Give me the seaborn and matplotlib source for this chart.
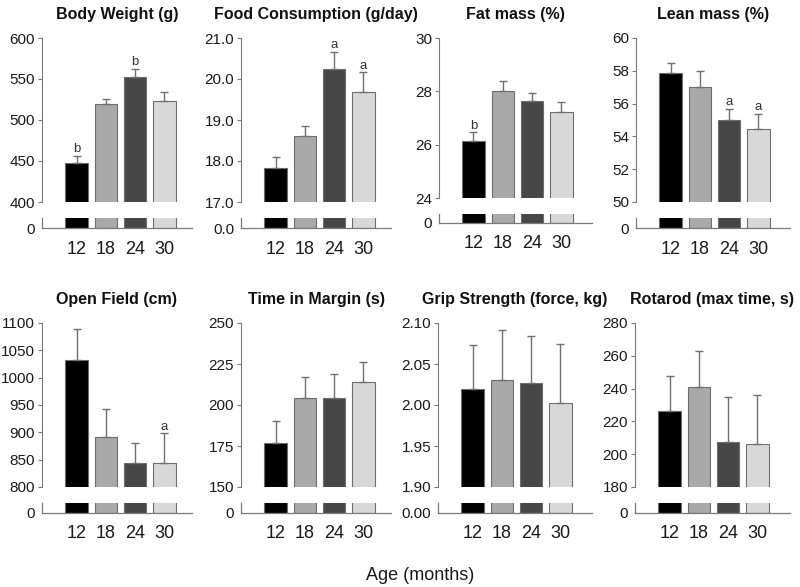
import numpy as np
import matplotlib
matplotlib.use("Agg")
import matplotlib.pyplot as plt
import seaborn as sns

# --------------------------
# Data
# --------------------------
ages = ["12", "18", "24", "30"]
bar_colors = ["#000000", "#a9a9a9", "#474747", "#d8d8d8"]

body_weight = [448, 520, 553, 523]
body_weight_err = [8, 6, 9, 11]
body_weight_sig = ["b", "", "b", ""]

food = [17.82, 18.62, 20.24, 19.69]
food_err = [0.27, 0.24, 0.43, 0.47]
food_sig = ["", "", "a", "a"]

fat = [26.15, 28.03, 27.63, 27.23]
fat_err = [0.31, 0.36, 0.30, 0.38]
fat_sig = ["b", "", "", ""]

lean = [57.84, 57.02, 54.98, 54.45]
lean_err = [0.63, 0.94, 0.71, 0.94]
lean_sig = ["", "", "a", "a"]

open_field = [1032, 892, 843, 844]
open_field_err = [57, 50, 38, 54]
open_field_sig = ["", "", "", "a"]

margin = [177, 204, 204, 214]
margin_err = [13, 13, 15, 12]
margin_sig = ["", "", "", ""]

grip = [2.019, 2.030, 2.027, 2.002]
grip_err = [0.054, 0.061, 0.057, 0.073]
grip_sig = ["", "", "", ""]

rotarod = [226.5, 241, 207.5, 206]
rotarod_err = [21, 22, 27.5, 30]
rotarod_sig = ["", "", "", ""]

# --------------------------
# Figure setup
# --------------------------
sns.set_style("ticks")
plt.rcParams["font.family"] = ["Liberation Sans", "DejaVu Sans"]

W, H = 800, 587
fig = plt.figure(figsize=(W / 100, H / 100), dpi=100)
fig.patch.set_facecolor("white")

spine_col = "#7a7a7a"
text_col = "#1a1a1a"


def px_axes(x0, y0, x1, y1):
    return fig.add_axes([x0 / W, 1 - y1 / H, (x1 - x0) / W, (y1 - y0) / H])


# title, values, errors, letters, ylim, yticks, tick format, zero label,
# axis left, axis right, top, break, lower-top, lower-bottom (pixels)
panels = [
    ("Body Weight (g)", body_weight, body_weight_err, body_weight_sig,
     (400, 600), np.arange(400, 601, 50), "{:.0f}", "0", 42, 192, 38, 202, 218, 228),
    ("Food Consumption (g/day)", food, food_err, food_sig,
     (17, 21), np.arange(17, 21.01, 1.0), "{:.1f}", "0.0", 241, 391, 38, 202, 218, 228),
    ("Fat mass (%)", fat, fat_err, fat_sig,
     (24, 30), np.arange(24, 30.1, 2), "{:.0f}", "0", 439, 592, 38, 198, 214, 223),
    ("Lean mass (%)", lean, lean_err, lean_sig,
     (50, 60), np.arange(50, 60.1, 2), "{:.0f}", "0", 636, 790, 38, 202, 218, 228),
    ("Open Field (cm)", open_field, open_field_err, open_field_sig,
     (800, 1100), np.arange(800, 1101, 50), "{:.0f}", "0", 42, 192, 323, 487, 503, 513),
    ("Time in Margin (s)", margin, margin_err, margin_sig,
     (150, 250), np.arange(150, 251, 25), "{:.0f}", "0", 241, 391, 323, 487, 503, 513),
    ("Grip Strength (force, kg)", grip, grip_err, grip_sig,
     (1.90, 2.10), np.arange(1.90, 2.101, 0.05), "{:.2f}", "0.00", 438, 592, 323, 487, 503, 513),
    ("Rotarod (max time, s)", rotarod, rotarod_err, rotarod_sig,
     (180, 280), np.arange(180, 281, 20), "{:.0f}", "0", 635, 790, 323, 487, 503, 513),
]

step = 29.3      # pixels between bar centres
first = 34.5     # pixels from axis to first bar centre

for (title, vals, errs, sig, ylim, yticks, fmt, zero_lab,
     x0, x1, top, brk, low_top, low_bot) in panels:
    xl = (-first / step, -first / step + (x1 - x0) / step)

    # upper (zoomed) part
    ax = px_axes(x0, top, x1, brk)
    sns.barplot(x=ages, y=vals, hue=ages, palette=bar_colors, order=ages,
                width=0.77, edgecolor="#6e6e6e", linewidth=0.8,
                legend=False, ax=ax)
    ax.errorbar(range(4), vals, yerr=[[0] * 4, errs], fmt="none",
                ecolor="#707070", elinewidth=1, capsize=3, capthick=1, zorder=3)
    for i, s in enumerate(sig):
        if s:
            ax.annotate(s, (i, vals[i] + errs[i]), xytext=(0, 0.5),
                        textcoords="offset points", ha="center", va="bottom",
                        fontsize=9.5, color="#333333")
    ax.set_xlim(*xl)
    ax.set_ylim(*ylim)
    ax.set_yticks(yticks)
    ax.set_yticklabels([fmt.format(t) for t in yticks])
    ax.set_xticks([])
    ax.set_xlabel("")
    ax.set_ylabel("")
    sns.despine(ax=ax, bottom=True)
    ax.spines["left"].set_color(spine_col)
    ax.tick_params(axis="y", colors=spine_col, labelcolor=text_col,
                   labelsize=11, length=3, width=0.8, pad=2)
    ax.set_title(title, fontsize=11.5, fontweight="bold", pad=14, color="#111111")

    # lower part showing zero
    axb = px_axes(x0, low_top, x1, low_bot)
    sns.barplot(x=ages, y=vals, hue=ages, palette=bar_colors, order=ages,
                width=0.77, edgecolor="#6e6e6e", linewidth=0.8,
                legend=False, ax=axb)
    axb.set_xlim(*xl)
    axb.set_ylim(0, 1)
    axb.set_yticks([0])
    axb.set_yticklabels([zero_lab])
    axb.set_xticks(range(4))
    axb.set_xticklabels(ages)
    axb.set_xlabel("")
    axb.set_ylabel("")
    sns.despine(ax=axb)
    for sp in ("left", "bottom"):
        axb.spines[sp].set_color(spine_col)
        axb.spines[sp].set_linewidth(0.9)
    axb.tick_params(axis="y", colors=spine_col, labelcolor=text_col,
                    labelsize=11, length=0, pad=5)
    axb.tick_params(axis="x", labelcolor=text_col, labelsize=13,
                    length=0, pad=9)

fig.text(420 / W, 1 - 576 / H, "Age (months)", ha="center", va="center",
         fontsize=13, color=text_col)

fig.savefig("out.png", dpi=100, facecolor="white")
